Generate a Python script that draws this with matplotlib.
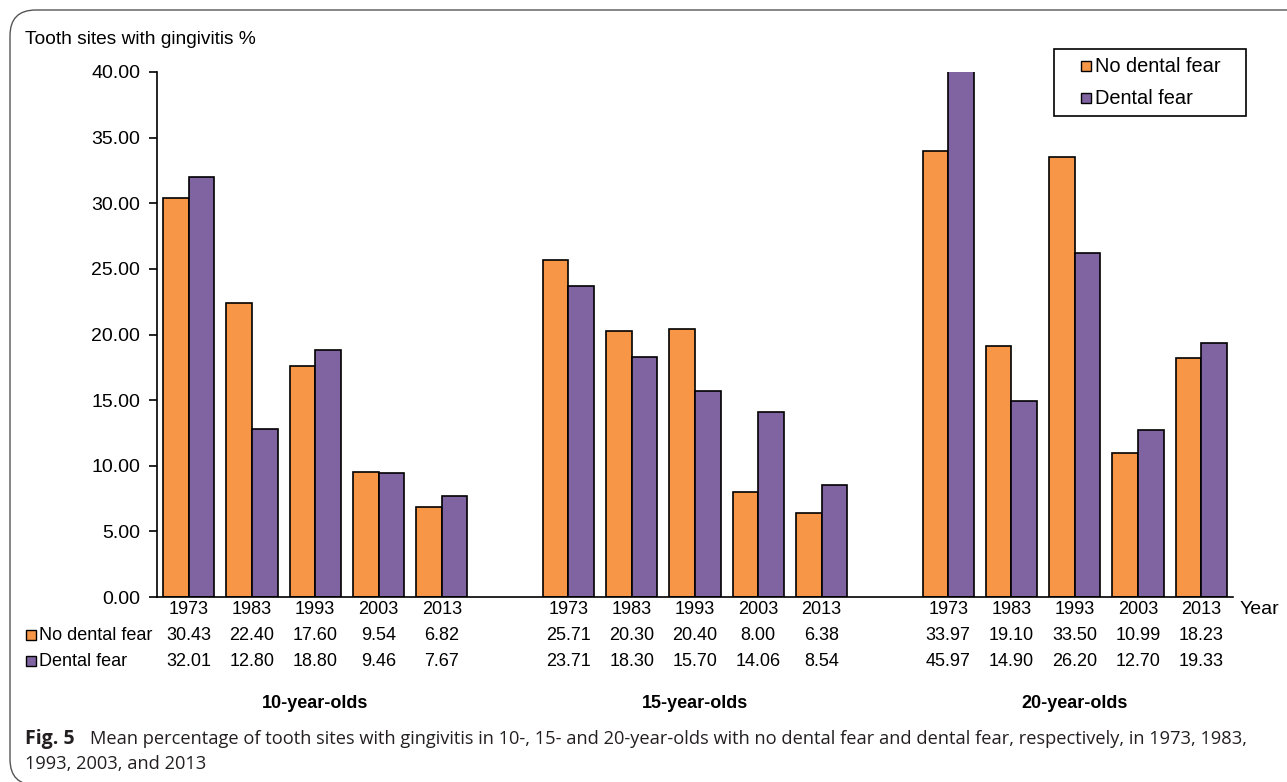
import matplotlib
matplotlib.use("Agg")
import matplotlib.pyplot as plt
from matplotlib.patches import FancyBboxPatch, Rectangle
from matplotlib.transforms import blended_transform_factory
import numpy as np

years = ["1973", "1983", "1993", "2003", "2013"]
groups = ["10-year-olds", "15-year-olds", "20-year-olds"]
no_fear = [[30.43, 22.40, 17.60, 9.54, 6.82],
           [25.71, 20.30, 20.40, 8.00, 6.38],
           [33.97, 19.10, 33.50, 10.99, 18.23]]
fear = [[32.01, 12.80, 18.80, 9.46, 7.67],
        [23.71, 18.30, 15.70, 14.06, 8.54],
        [45.97, 14.90, 26.20, 12.70, 19.33]]
series_names = ["No dental fear", "Dental fear"]
yticks = [0, 5, 10, 15, 20, 25, 30, 35, 40]

ORANGE = "#F79646"
PURPLE = "#8064A2"
FONT = "Liberation Sans"
W, H = 1287, 782

fig = plt.figure(figsize=(W / 100, H / 100), dpi=100)
fig.patch.set_facecolor("white")

def fy(p):
    return 1 - p / H

def fx(p):
    return p / W

ax = fig.add_axes([fx(157), fy(597), fx(1233) - fx(157), fy(72) - fy(597)])

positions = []
for g in range(3):
    positions.append([g * 6 + i for i in range(5)])

bw = 0.405
for g in range(3):
    pos = np.array(positions[g])
    ax.bar(pos - bw / 2, no_fear[g], width=bw, color=ORANGE, edgecolor="black", linewidth=1.2, zorder=2)
    ax.bar(pos + bw / 2, fear[g], width=bw, color=PURPLE, edgecolor="black", linewidth=1.2, zorder=2)

ax.set_xlim(-0.5, 16.5)
ax.set_ylim(0, 40)
ax.set_yticks(yticks)
ax.set_yticklabels([f"{v:.2f}" for v in yticks], fontsize=14, family=FONT)
ax.set_xticks([])
for s in ["top", "right"]:
    ax.spines[s].set_visible(False)
ax.spines["left"].set_linewidth(1.2)
ax.spines["bottom"].set_linewidth(1.2)
ax.tick_params(axis="y", direction="out", length=6, width=1.2, pad=6)

tr = blended_transform_factory(ax.transData, fig.transFigure)

for g in range(3):
    for i, p in enumerate(positions[g]):
        fig.text(p, fy(609), years[i], transform=tr, ha="center", va="center", fontsize=13, family=FONT)
        fig.text(p, fy(635), f"{no_fear[g][i]:.2f}", transform=tr, ha="center", va="center", fontsize=13, family=FONT)
        fig.text(p, fy(661), f"{fear[g][i]:.2f}", transform=tr, ha="center", va="center", fontsize=13, family=FONT)
    fig.text(positions[g][2], fy(703), groups[g], transform=tr, ha="center", va="center",
             fontsize=13, fontweight="bold", family=FONT)

fig.text(fx(1240), fy(610), "Year", ha="left", va="center", fontsize=14, family=FONT)

for yy, name, col in [(635, series_names[0], ORANGE), (661, series_names[1], PURPLE)]:
    fig.patches.append(Rectangle((fx(26), fy(yy + 5)), fx(10), fy(yy - 5) - fy(yy + 5),
                                 transform=fig.transFigure, facecolor=col, edgecolor="black", linewidth=1.0))
    fig.text(fx(39), fy(yy), name, ha="left", va="center", fontsize=13, family=FONT)

fig.text(fx(25), fy(40), "Tooth sites with gingivitis %", ha="left", va="center", fontsize=13.8, family=FONT)

fig.patches.append(Rectangle((fx(1054), fy(116)), fx(1246) - fx(1054), fy(49) - fy(116),
                             transform=fig.transFigure, facecolor="white", edgecolor="black", linewidth=1.2))
for yy, name, col in [(66, series_names[0], ORANGE), (98, series_names[1], PURPLE)]:
    fig.patches.append(Rectangle((fx(1081), fy(yy + 5)), fx(10), fy(yy - 5) - fy(yy + 5),
                                 transform=fig.transFigure, facecolor=col, edgecolor="black", linewidth=1.0))
    fig.text(fx(1095), fy(yy), name, ha="left", va="center", fontsize=14.4, family=FONT)

CAP = "Open Sans"
fig.text(fx(25), fy(739), "Fig. 5", ha="left", va="center", fontsize=14, fontweight="bold",
         family=CAP, color="#231f20")
fig.text(fx(90), fy(739),
         "Mean percentage of tooth sites with gingivitis in 10-, 15- and 20-year-olds with no dental fear and dental fear, respectively, in 1973, 1983,",
         ha="left", va="center", fontsize=13.15, family=CAP, color="#231f20")
fig.text(fx(25), fy(764), "1993, 2003, and 2013", ha="left", va="center", fontsize=13.15, family=CAP, color="#231f20")

frame = FancyBboxPatch((fx(10), fy(785)), fx(1340) - fx(10), fy(10) - fy(785),
                       boxstyle="round,pad=0,rounding_size=0.02",
                       transform=fig.transFigure, facecolor="none", edgecolor="#555555",
                       linewidth=1.0, mutation_aspect=W / H)
fig.patches.append(frame)

fig.savefig("out.png", dpi=100)
